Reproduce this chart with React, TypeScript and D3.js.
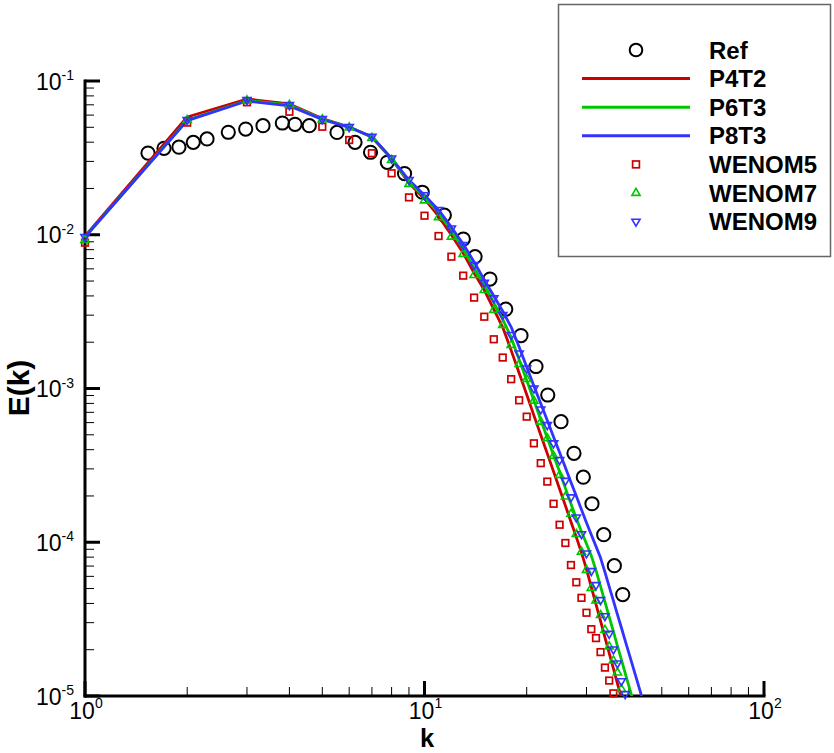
import React from "react";
import * as d3 from "d3";

// ---------- data ----------
const kShell = [1, 2, 3, 4, 5, 6, 7, 8, 9, 10, 11, 12, 13, 14, 15, 16, 17, 18, 19, 20, 21, 22, 23, 24, 25, 26, 27, 28, 29, 30, 31, 32, 33, 34, 35, 36, 37, 38, 39, 40, 41, 42, 43, 44];

const refK = [1.533, 1.709, 1.891, 2.084, 2.288, 2.643, 2.974, 3.344, 3.813, 4.155, 4.578, 5.524, 6.243, 6.934, 7.771, 8.734, 9.852, 11.44, 13.01, 14.09, 15.59, 17.35, 19.24, 21.3, 23.07, 25.24, 27.56, 29.36, 31.14, 33.72, 36.24, 38.36];
const refE = [0.034, 0.0365, 0.0371, 0.0399, 0.042, 0.0464, 0.0487, 0.0512, 0.0533, 0.0523, 0.0512, 0.0463, 0.0399, 0.0344, 0.0296, 0.025, 0.0189, 0.0134, 0.00938, 0.0072, 0.00515, 0.00328, 0.00221, 0.00139, 0.000907, 0.000608, 0.000379, 0.000265, 0.000178, 0.000112, 7.04e-5, 4.57e-5];

const p4t2E = [0.00981, 0.0583, 0.0764, 0.0709, 0.057, 0.0502, 0.0432, 0.0311, 0.0217, 0.0171, 0.0132, 0.00996, 0.00761, 0.00564, 0.00437, 0.00327, 0.0025, 0.00177, 0.00126, 0.000913, 0.000669, 0.000499, 0.000377, 0.000288, 0.000222, 0.000173, 0.000136, 0.000108, 8.56e-5, 6.69e-5, 5.11e-5, 3.95e-5, 3.08e-5, 2.41e-5, 1.9e-5, 1.51e-5, 1.21e-5, 9.72e-6];
const p6t3E = [0.00967, 0.0557, 0.0747, 0.0698, 0.0566, 0.0502, 0.0432, 0.0313, 0.022, 0.0176, 0.0139, 0.0106, 0.00808, 0.00608, 0.00471, 0.00362, 0.00282, 0.00215, 0.00154, 0.00113, 0.000834, 0.000627, 0.000477, 0.000367, 0.000287, 0.000225, 0.000178, 0.000143, 0.000117, 9.77e-5, 8.16e-5, 6.56e-5, 5.16e-5, 4.09e-5, 3.27e-5, 2.63e-5, 2.12e-5, 1.73e-5, 1.41e-5, 1.16e-5, 9.59e-6];
const p8t3E = [0.00967, 0.0553, 0.0741, 0.0688, 0.0562, 0.05, 0.0434, 0.0314, 0.0227, 0.0181, 0.0145, 0.0112, 0.00871, 0.00665, 0.00508, 0.004, 0.00318, 0.00251, 0.00186, 0.00138, 0.00104, 0.000799, 0.000619, 0.000484, 0.000383, 0.000306, 0.000246, 0.0002, 0.000163, 0.000134, 0.000112, 9.4e-5, 7.92e-5, 6.39e-5, 5.15e-5, 4.17e-5, 3.4e-5, 2.79e-5, 2.29e-5, 1.9e-5, 1.58e-5, 1.32e-5, 1.11e-5, 9.31e-6];

const wenom5E = [0.00888, 0.0536, 0.0727, 0.0631, 0.0504, 0.0413, 0.0339, 0.0251, 0.0175, 0.0133, 0.00981, 0.0072, 0.00542, 0.0039, 0.00293, 0.00209, 0.00159, 0.00115, 0.000838, 0.000656, 0.00044, 0.000327, 0.000248, 0.000178, 0.00013, 9.89e-5, 7.11e-5, 5.49e-5, 4.35e-5, 3.48e-5, 2.72e-5, 2.38e-5, 1.93e-5, 1.53e-5, 1.26e-5, 1.04e-5];
const wenom7E = [0.00924, 0.0557, 0.0747, 0.0698, 0.0562, 0.0498, 0.0426, 0.0306, 0.0214, 0.0167, 0.013, 0.00971, 0.0075, 0.00547, 0.00437, 0.00324, 0.00259, 0.00192, 0.00144, 0.00115, 0.000833, 0.000608, 0.000474, 0.000364, 0.000274, 0.000198, 0.000153, 0.000113, 8.68e-5, 6.6e-5, 5.04e-5, 4.18e-5, 3.36e-5, 2.69e-5, 2.1e-5, 1.7e-5, 1.42e-5, 1.11e-5];
const wenom9E = [0.00967, 0.0557, 0.0752, 0.0698, 0.0566, 0.0502, 0.0434, 0.0314, 0.0227, 0.0181, 0.0145, 0.011, 0.00858, 0.00636, 0.00488, 0.00386, 0.00301, 0.00223, 0.00169, 0.00135, 0.001, 0.000732, 0.000579, 0.00044, 0.000343, 0.000251, 0.000196, 0.000145, 0.000113, 8.47e-5, 6.5e-5, 5.27e-5, 4.21e-5, 3.31e-5, 2.54e-5, 2.01e-5, 1.63e-5, 1.25e-5, 1.03e-5];

const xTickExps = [0, 1, 2];
const yTickExps = [-1, -2, -3, -4, -5];
const minorMults = [2, 3, 4, 5, 6, 7, 8, 9];
const legendLabels = ["Ref", "P4T2", "P6T3", "P8T3", "WENOM5", "WENOM7", "WENOM9"];

// ---------- styles ----------
const W = 834;
const H = 753;
const PLOT = { left: 85, right: 764, top: 81, bottom: 696 };
const FONT = "'Liberation Sans', Arial, Helvetica, sans-serif";
const RED = "#cc0000";
const GREEN = "#00c800";
const BLUE = "#3333ff";

function Square({ cx, cy, s = 6.6, color }: { cx: number; cy: number; s?: number; color: string }) {
  return <rect x={cx - s / 2} y={cy - s / 2} width={s} height={s} fill="none" stroke={color} strokeWidth={1.7} />;
}
function TriUp({ cx, cy, color }: { cx: number; cy: number; color: string }) {
  return <path d={`M${cx},${cy - 4.6}L${cx + 4.1},${cy + 2.4}L${cx - 4.1},${cy + 2.4}Z`} fill="none" stroke={color} strokeWidth={1.6} />;
}
function TriDown({ cx, cy, color }: { cx: number; cy: number; color: string }) {
  return <path d={`M${cx},${cy + 4.6}L${cx + 4.1},${cy - 2.4}L${cx - 4.1},${cy - 2.4}Z`} fill="none" stroke={color} strokeWidth={1.6} />;
}

export default function App() {
  const x = d3.scaleLog().domain([1, 100]).range([PLOT.left, PLOT.right]);
  const y = d3.scaleLog().domain([1e-5, 1e-1]).range([PLOT.bottom, PLOT.top]);
  const line = d3
    .line<[number, number]>()
    .x((d) => x(d[0]))
    .y((d) => y(d[1]));
  const pts = (E: number[]) => E.map((e, i) => [kShell[i], e] as [number, number]);

  const xMinor: number[] = [];
  [1, 10].forEach((dec) => minorMults.forEach((m) => xMinor.push(m * dec)));
  const yMinor: number[] = [];
  [1e-5, 1e-4, 1e-3, 1e-2].forEach((dec) => minorMults.forEach((m) => yMinor.push(m * dec)));

  const lineSeries = [
    { E: p4t2E, color: RED },
    { E: p6t3E, color: GREEN },
    { E: p8t3E, color: BLUE },
  ];

  const legX = 558.5;
  const legY = 4.5;
  const rowY = (i: number) => 50 + i * 28.6;

  return (
    <svg width={W} height={H} style={{ position: "absolute", left: 0, top: 0, background: "#fff" }} fontFamily={FONT}>
      <defs>
        <clipPath id="plotclip">
          <rect x={PLOT.left} y={PLOT.top - 10} width={PLOT.right - PLOT.left} height={PLOT.bottom - PLOT.top + 10} />
        </clipPath>
      </defs>
      <rect x={0} y={0} width={W} height={H} fill="#fff" />

      {/* minor ticks */}
      {yMinor.map((v) => (
        <line key={"ym" + v} x1={PLOT.left} x2={PLOT.left + 9} y1={y(v)} y2={y(v)} stroke="#000" strokeWidth={1} />
      ))}
      {xMinor.map((v) => (
        <line key={"xm" + v} x1={x(v)} x2={x(v)} y1={PLOT.bottom} y2={PLOT.bottom - 9} stroke="#000" strokeWidth={1} />
      ))}
      {/* major ticks */}
      {yTickExps.map((e) => (
        <line key={"yM" + e} x1={PLOT.left} x2={PLOT.left + 15} y1={y(Math.pow(10, e))} y2={y(Math.pow(10, e))} stroke="#000" strokeWidth={3} />
      ))}
      {xTickExps.map((e) => (
        <line key={"xM" + e} x1={x(Math.pow(10, e))} x2={x(Math.pow(10, e))} y1={PLOT.bottom} y2={PLOT.bottom - 15} stroke="#000" strokeWidth={3} />
      ))}
      {/* axis lines */}
      <line x1={PLOT.left} x2={PLOT.left} y1={PLOT.top - 1.5} y2={PLOT.bottom + 1.5} stroke="#000" strokeWidth={3} />
      <line x1={PLOT.left - 1.5} x2={PLOT.right + 1.5} y1={PLOT.bottom} y2={PLOT.bottom} stroke="#000" strokeWidth={3} />

      {/* tick labels */}
      {yTickExps.map((e) => (
        <text key={"yl" + e} x={74} y={y(Math.pow(10, e)) + 8.5} textAnchor="end" fontSize={23} fill="#000">
          10
          <tspan fontSize={14} dy={-9.5}>
            {e}
          </tspan>
        </text>
      ))}
      {xTickExps.map((e) => (
        <text key={"xl" + e} x={x(Math.pow(10, e)) + 1} y={718.5} textAnchor="middle" fontSize={23} fill="#000">
          10
          <tspan fontSize={14} dy={-11}>
            {e}
          </tspan>
        </text>
      ))}

      {/* axis titles */}
      <text x={427} y={746.5} textAnchor="middle" fontSize={25.5} fontWeight="bold" fill="#000">
        k
      </text>
      <text transform={`translate(29,388) rotate(-90)`} textAnchor="middle" fontSize={30} fontWeight="bold" fill="#000">
        E(k)
      </text>

      {/* Ref circles */}
      {refK.map((k, i) => (
        <circle key={"ref" + i} cx={x(k)} cy={y(refE[i])} r={6.6} fill="none" stroke="#000" strokeWidth={2} />
      ))}

      {/* lines */}
      <g clipPath="url(#plotclip)">
        {lineSeries.map((s, i) => (
          <path key={"ln" + i} d={line(pts(s.E)) || ""} fill="none" stroke={s.color} strokeWidth={2.8} strokeLinejoin="round" />
        ))}
      </g>

      {/* markers */}
      {wenom5E.map((e, i) => (
        <Square key={"w5" + i} cx={x(kShell[i])} cy={y(e)} color={RED} />
      ))}
      {wenom7E.map((e, i) => (
        <TriUp key={"w7" + i} cx={x(kShell[i])} cy={y(e)} color={GREEN} />
      ))}
      {wenom9E.map((e, i) => (
        <TriDown key={"w9" + i} cx={x(kShell[i])} cy={y(e)} color={BLUE} />
      ))}

      {/* legend */}
      <rect x={legX} y={legY} width={272} height={252} fill="#fff" stroke="#666" strokeWidth={1.5} />
      {legendLabels.map((lab, i) => {
        const cy = rowY(i);
        let sym: React.ReactNode = null;
        if (i === 0) sym = <circle cx={636} cy={cy} r={6.3} fill="none" stroke="#000" strokeWidth={2} />;
        else if (i <= 3)
          sym = <line x1={582} x2={690} y1={cy} y2={cy} stroke={[RED, GREEN, BLUE][i - 1]} strokeWidth={3} />;
        else if (i === 4) sym = <Square cx={636} cy={cy} s={6.8} color={RED} />;
        else if (i === 5) sym = <TriUp cx={636} cy={cy} color={GREEN} />;
        else sym = <TriDown cx={636} cy={cy} color={BLUE} />;
        return (
          <g key={"leg" + i}>
            {sym}
            <text x={709} y={cy + 8.6} fontSize={24} fontWeight="bold" fill="#000">
              {lab}
            </text>
          </g>
        );
      })}
    </svg>
  );
}
